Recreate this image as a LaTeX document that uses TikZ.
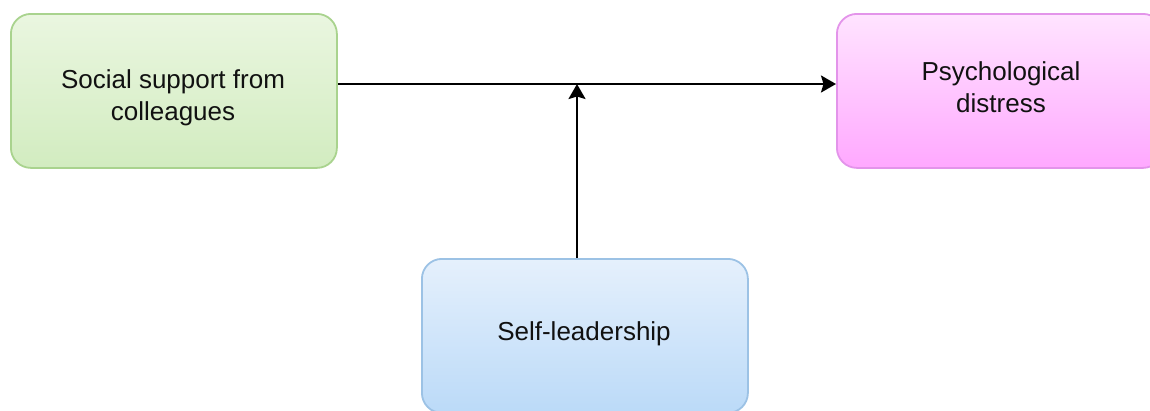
\documentclass[tikz,border=0pt]{standalone}
\usepackage{fontspec}
\setmainfont{Liberation Sans}
\usetikzlibrary{arrows.meta}
\definecolor{gTop}{HTML}{EAF6E0}
\definecolor{gBot}{HTML}{D2ECC0}
\definecolor{gLine}{HTML}{A9D38E}
\definecolor{pTop}{HTML}{FFE4FF}
\definecolor{pBot}{HTML}{FFA8FF}
\definecolor{pLine}{HTML}{E394EA}
\definecolor{bTop}{HTML}{E5F0FC}
\definecolor{bBot}{HTML}{BBDAF8}
\definecolor{bLine}{HTML}{9CC2E5}
\definecolor{txt}{HTML}{111111}
\tikzset{
  box/.style={rounded corners=20pt, line width=1.8pt, minimum width=326pt, minimum height=154pt, inner sep=0pt},
  lbl/.style={font=\fontsize{26pt}{32pt}\selectfont, text=txt, align=center, anchor=base, inner sep=0pt},
  conn/.style={line width=2.3pt, -{Stealth[length=15pt, width=17pt, inset=2.5pt]}}
}
\begin{document}
\begin{tikzpicture}[x=1pt,y=-1pt]
\useasboundingbox (0,0) rectangle (1150,410);
\begin{scope}
\clip (0,0) rectangle (1150,410);
\node[box, draw=gLine, top color=gTop, bottom color=gBot, anchor=north west] (green) at (10,13) {};
\node[box, draw=pLine, top color=pTop, bottom color=pBot, anchor=north west] (pink) at (836,13) {};
\node[box, draw=bLine, top color=bTop, bottom color=bBot, anchor=north west] (blue) at (421,258) {};
\end{scope}
\node[lbl] (greent) at (173,120) {Social support from\\colleagues};
\node[lbl] (pinkt) at (1001,112) {Psychological\\distress};
\node[lbl] (bluet) at (584,340) {Self-leadership};
\coordinate (m) at (577,84);
\draw[conn] (green.east |- m) -- (pink.west |- m);
\draw[conn] (blue.north -| m) -- (m);
\end{tikzpicture}
\end{document}
